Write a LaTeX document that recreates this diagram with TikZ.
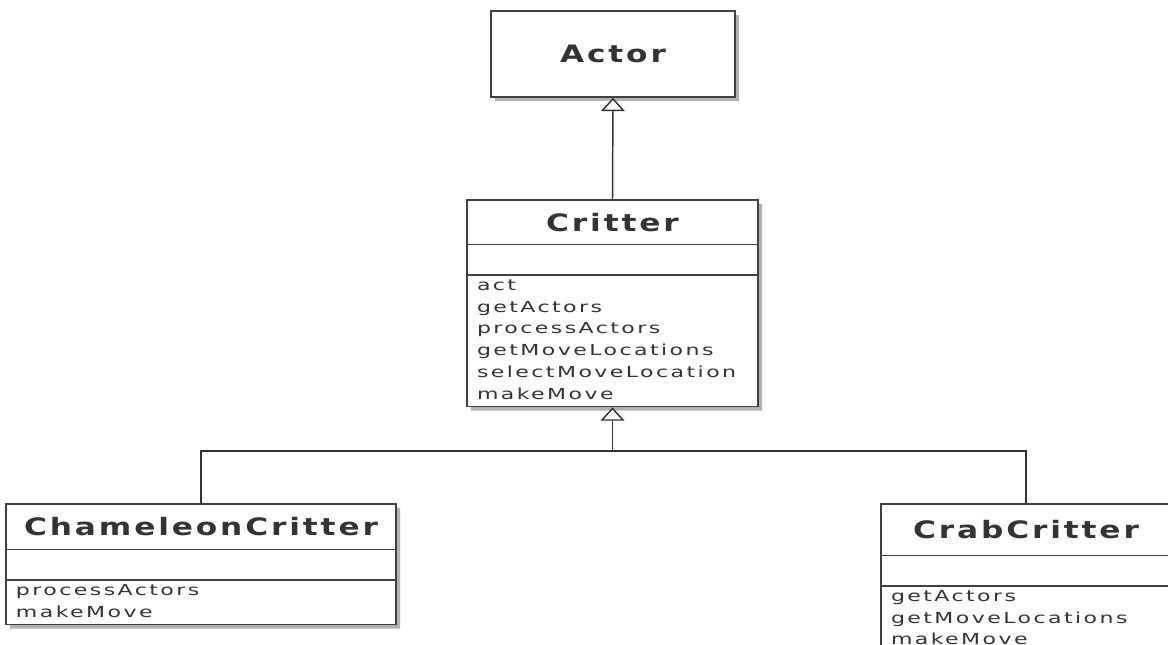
\documentclass[tikz,border=0pt]{standalone}
\usepackage{fontspec}
\usepackage{graphicx}
\usetikzlibrary{arrows.meta, shapes.multipart, shadows}

\newfontfamily\titlefont[LetterSpace=12, FakeStretch=1.3]{DejaVu Sans}
\newfontfamily\opfont[LetterSpace=16, FakeStretch=1.45]{DejaVu Sans}

\newcommand{\umltitle}[1]{{\titlefont\bfseries\fontsize{18pt}{20pt}\selectfont\color{black!80}#1}}
\newcommand{\namepart}[3]{\parbox[c][#2][c]{#1}{\centering\umltitle{#3}}}
\newcommand{\emptypart}[2]{\parbox[c][#2][c]{#1}{\mbox{}}}
\newcommand{\oppart}[3]{\parbox[c][#2][t]{#1}{\opfont\fontsize{11.4pt}{16.3pt}\selectfont
  \raggedright\leftskip=7.5pt\color{black!80}\rule{0pt}{11pt}#3}}

\tikzset{
  umlbox/.style={draw=black!75, line width=1.2pt, fill=white, inner sep=0pt,
    drop shadow={shadow xshift=3pt, shadow yshift=-3pt, fill=black!30, opacity=1}},
  umlclass/.style={umlbox, rectangle split, rectangle split parts=3},
  connector/.style={draw=black!80, line width=1.1pt},
  inherit/.style={connector, -{Triangle[fill=white, length=10pt, width=18pt]}}
}

\begin{document}
\begin{tikzpicture}[x=0.75pt, y=-0.75pt]
  \useasboundingbox (0,0) rectangle (1168,645);
  \clip (0,0) rectangle (1168,645);
  % classes
  \node[umlbox, minimum width=183pt, minimum height=64.5pt] (actor) at (613,54) {\umltitle{Actor}};
  \node[umlclass, anchor=north] (critter) at (612.5,199) {%
    \namepart{218.25pt}{32.25pt}{Critter}%
    \nodepart{two}\emptypart{218.25pt}{21.75pt}%
    \nodepart{three}\oppart{218.25pt}{97.5pt}{act\\getActors\\processActors\\getMoveLocations\\selectMoveLocation\\makeMove}};
  \node[umlclass, anchor=north] (chameleon) at (201,503) {%
    \namepart{292.5pt}{33pt}{ChameleonCritter}%
    \nodepart{two}\emptypart{292.5pt}{21.75pt}%
    \nodepart{three}\oppart{292.5pt}{32.25pt}{processActors\\makeMove}};
  \node[umlclass, anchor=north] (crab) at (1026,503) {%
    \namepart{217.5pt}{37.5pt}{CrabCritter}%
    \nodepart{two}\emptypart{217.5pt}{21.75pt}%
    \nodepart{three}\oppart{217.5pt}{48.75pt}{getActors\\getMoveLocations\\makeMove}};
  % generalisation
  \coordinate (bus) at (612.5,451);
  \draw[inherit] (critter.north) -- (actor.south);
  \draw[inherit] (chameleon.north) |- (bus) -- (critter.south);
  \draw[connector] (crab.north) |- (bus);
\end{tikzpicture}
\end{document}
